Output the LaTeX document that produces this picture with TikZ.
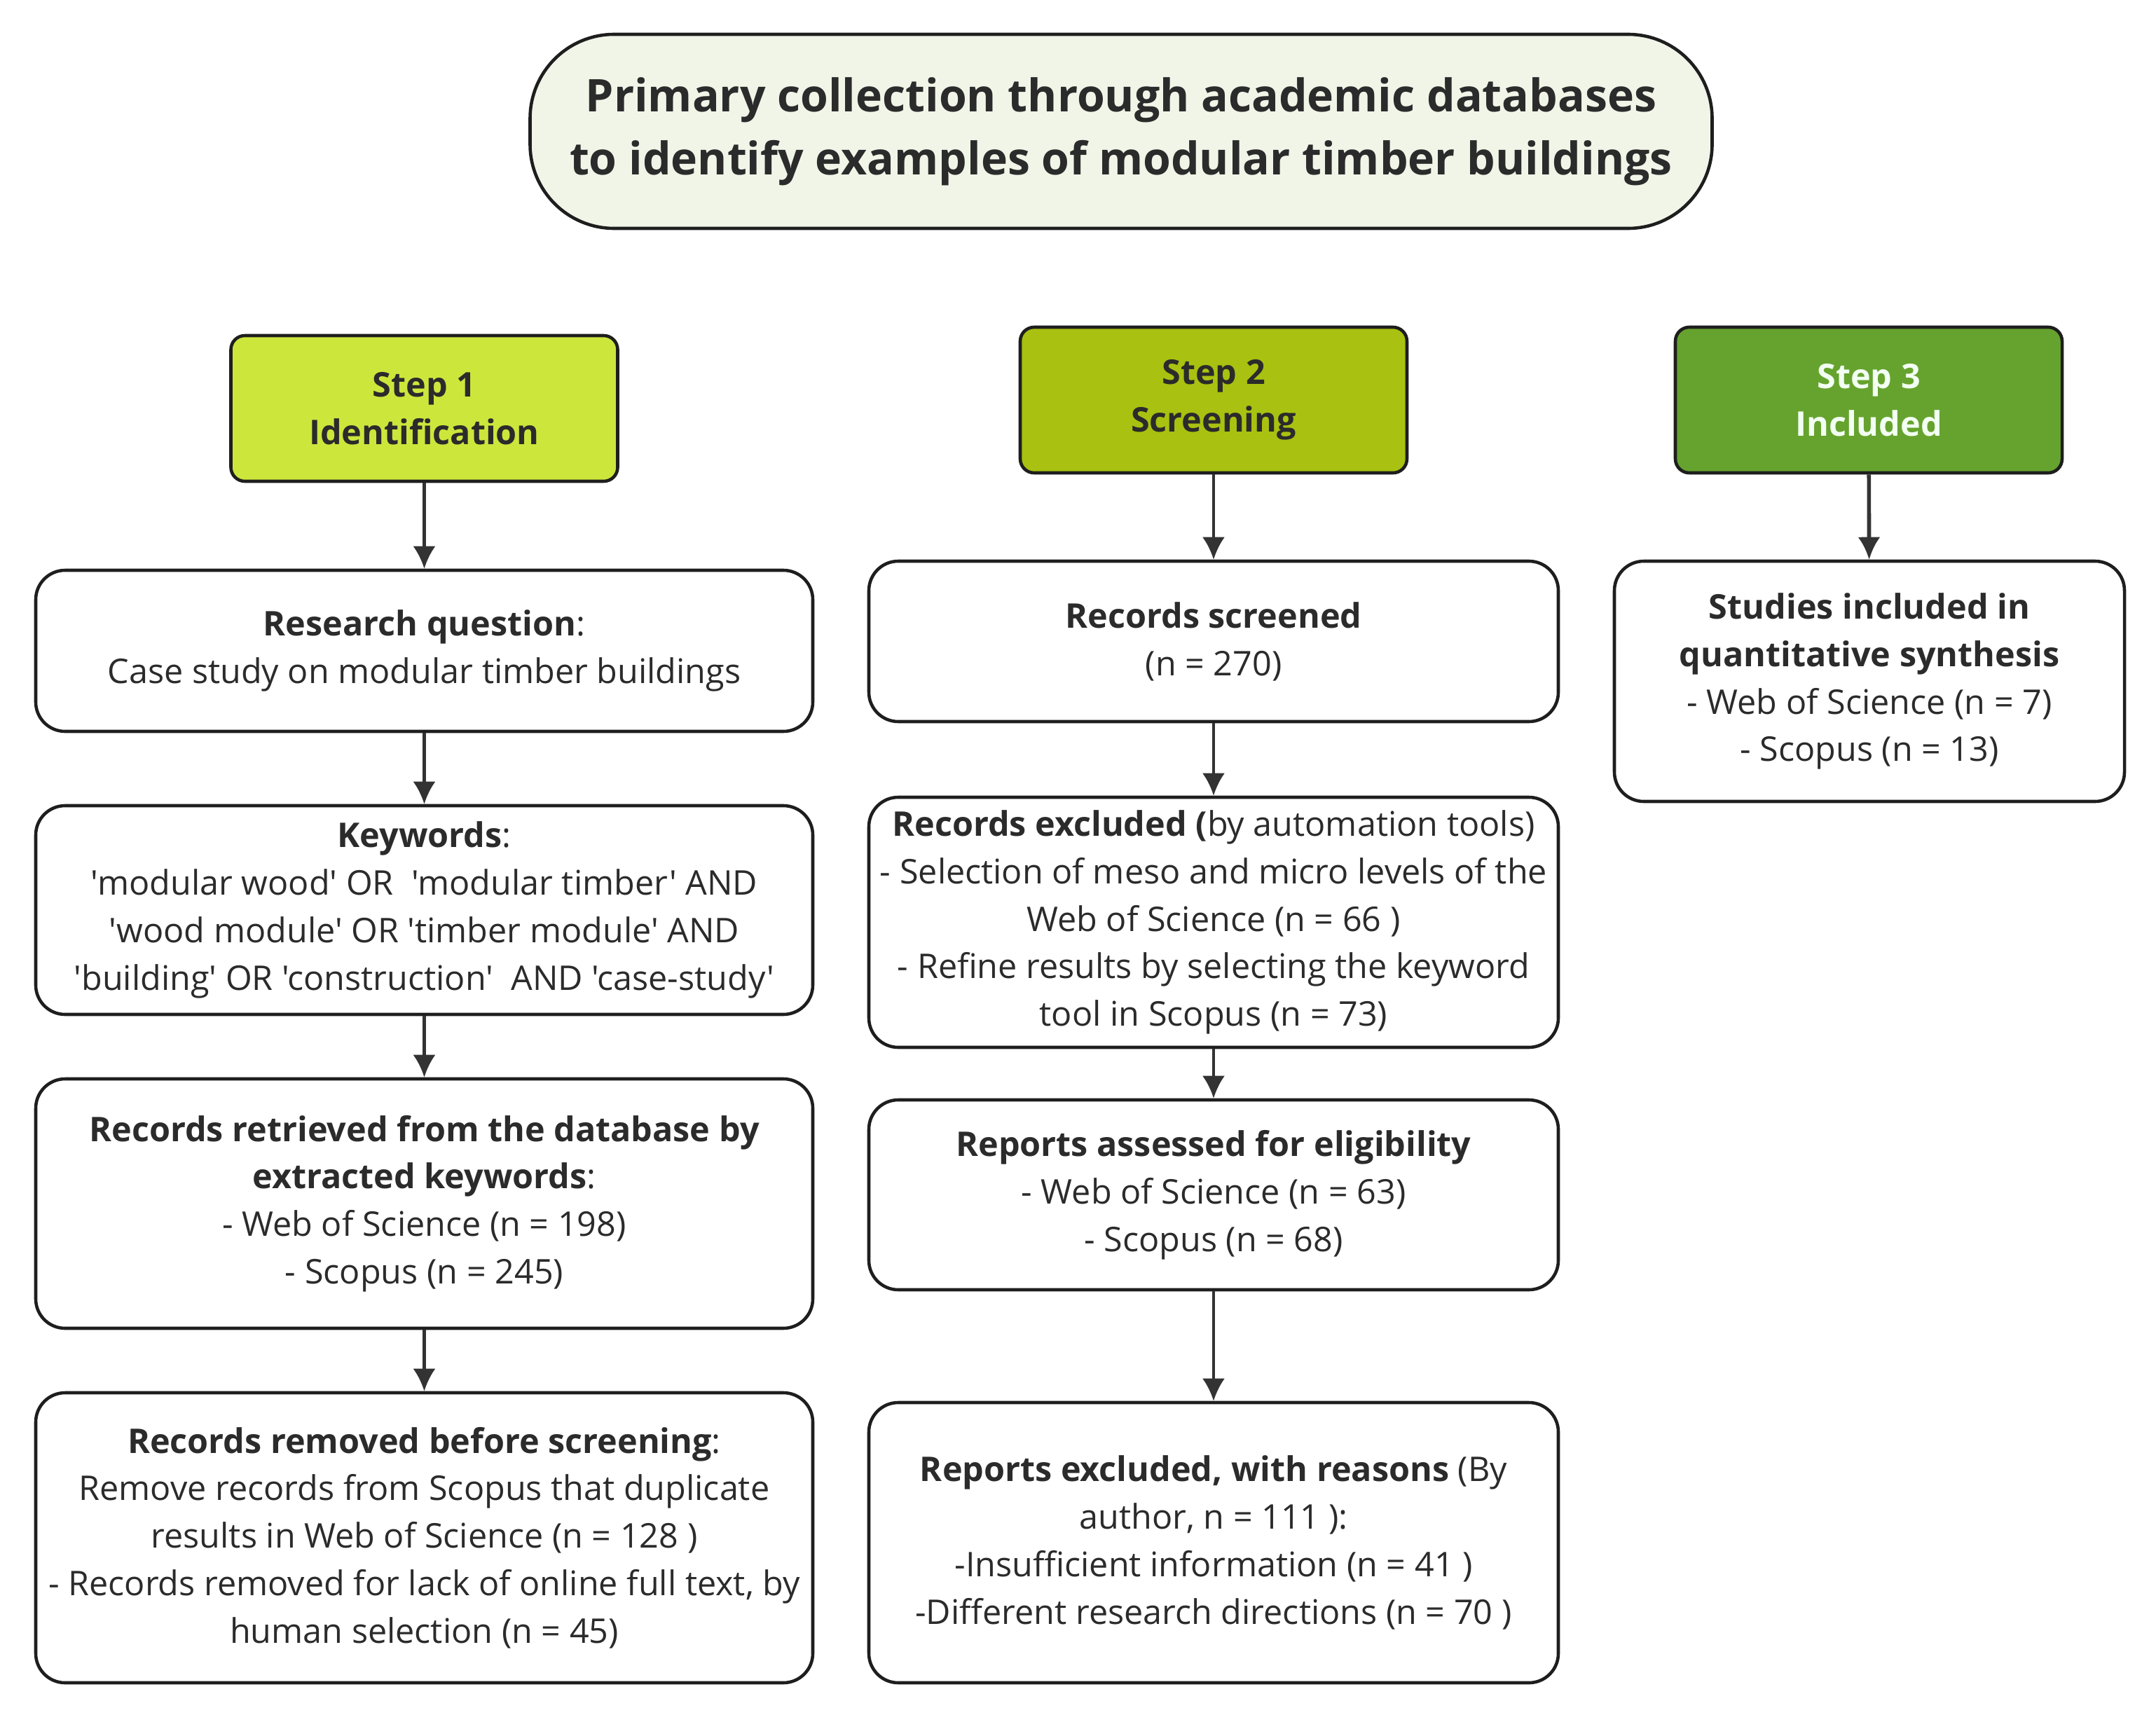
\documentclass[tikz,border=0pt]{standalone}
\usepackage{fontspec}
\setmainfont[Ligatures=TeXOff]{Open Sans}
\usepackage{xcolor}
\usetikzlibrary{arrows.meta}
\definecolor{txt}{HTML}{2B2B2B}
\definecolor{edge}{HTML}{1E1E1E}
\definecolor{titlefill}{HTML}{F1F5E8}
\definecolor{stepone}{HTML}{CDE63C}
\definecolor{steptwo}{HTML}{A9C110}
\definecolor{stepthree}{HTML}{66A32E}

\begin{document}
\begin{tikzpicture}[
  every node/.style={text=txt, align=center, font=\fontsize{13.8}{19.3}\selectfont},
  box/.style={draw=edge, line width=1.3pt, rounded corners=0.42cm, fill=white, inner sep=0pt},
  stepbox/.style={draw=edge, line width=1.3pt, rounded corners=0.2cm, inner sep=0pt,
    minimum width=5.52cm, minimum height=2.08cm, font=\fontsize{13.8}{19.3}\selectfont\bfseries},
  arr/.style={draw=black!80, line width=1.15pt, -{Latex[length=0.32cm, width=0.32cm]}}]
\useasboundingbox (0,0) rectangle (30.77,-24.48);

\node[draw=edge, line width=1.3pt, rounded corners=1.2cm, fill=titlefill, inner sep=0pt,
  minimum width=16.87cm, minimum height=2.77cm, font=\fontsize{18.3}{25.6}\selectfont\bfseries]
  (title) at (16.00,-1.875) {Primary collection through academic databases\\to identify examples of modular timber buildings};

\node[stepbox, fill=stepone] (s1) at (6.055,-5.83) {Step 1\\Identification};
\node[stepbox, fill=steptwo] (s2) at (17.32,-5.71) {Step 2\\Screening};
\node[stepbox, fill=stepthree, text=white!95!green] (s3) at (26.67,-5.71) {Step 3\\Included};

\node[box, minimum width=11.09cm, minimum height=2.30cm] (rq) at (6.055,-9.29)
  {\textbf{Research question}:\\Case study on modular timber buildings};
\node[box, minimum width=11.09cm, minimum height=2.98cm] (kw) at (6.055,-12.99)
  {\textbf{Keywords}:\\'modular wood' OR\ \ 'modular timber' AND\\'wood module' OR 'timber module' AND\\'building' OR 'construction'\ \ AND 'case-study'};
\node[box, minimum width=11.09cm, minimum height=3.56cm] (ret) at (6.055,-17.18)
  {\textbf{Records retrieved from the database by}\\\textbf{extracted keywords}:\\- Web of Science (n = 198)\\- Scopus (n = 245)};
\node[box, minimum width=11.09cm, minimum height=4.14cm] (rem) at (6.055,-21.95)
  {\textbf{Records removed before screening}:\\Remove records from Scopus that duplicate\\results in Web of Science (n = 128 )\\- Records removed for lack of online full text, by\\human selection (n = 45)};

\node[box, minimum width=9.84cm, minimum height=2.29cm] (scr) at (17.32,-9.155)
  {\textbf{Records screened}\\(n = 270)};
\node[box, minimum width=9.84cm, minimum height=3.57cm] (exc) at (17.32,-13.165)
  {\textbf{Records excluded (}by automation tools)\\- Selection of meso and micro levels of the\\Web of Science (n = 66 )\\- Refine results by selecting the keyword\\tool in Scopus (n = 73)};
\node[box, minimum width=9.84cm, minimum height=2.71cm] (ass) at (17.32,-17.055)
  {\textbf{Reports assessed for eligibility}\\- Web of Science (n = 63)\\- Scopus (n = 68)};
\node[box, minimum width=9.84cm, minimum height=4.00cm] (rex) at (17.32,-22.02)
  {\textbf{Reports excluded, with reasons} (By\\author, n = 111 ):\\-Insufficient information (n = 41 )\\-Different research directions (n = 70 )};

\node[box, minimum width=7.28cm, minimum height=3.43cm] (inc) at (26.68,-9.725)
  {\textbf{Studies included in}\\\textbf{quantitative synthesis}\\- Web of Science (n = 7)\\- Scopus (n = 13)};

\draw[arr] (s1) -- (rq);
\draw[arr] (rq) -- (kw);
\draw[arr] (kw) -- (ret);
\draw[arr] (ret) -- (rem);
\draw[arr] (s2) -- (scr);
\draw[arr] (scr) -- (exc);
\draw[arr] (exc) -- (ass);
\draw[arr] (ass) -- (rex);
\draw[arr, line width=1.6pt] (s3) -- (inc);
\end{tikzpicture}
\end{document}
